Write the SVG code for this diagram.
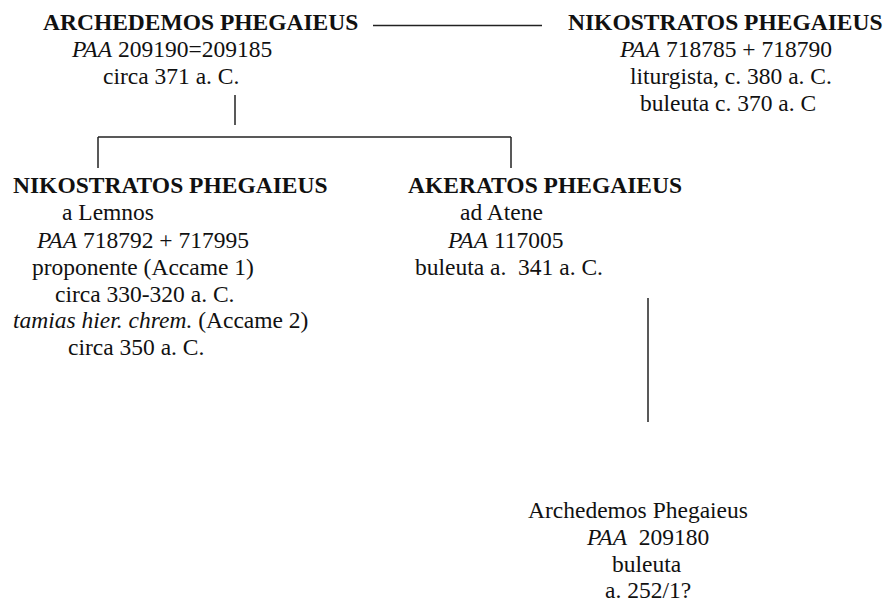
<svg xmlns="http://www.w3.org/2000/svg" width="887" height="604" viewBox="0 0 887 604">
<style>
text{font-size:23.5px;fill:#111;white-space:pre}
.b{font-weight:bold}
.i{font-style:italic}
.ln{stroke:#222;stroke-width:1.5;fill:none}
</style>
<rect width="887" height="604" fill="#fff"/>
<g id="connectors">
<line class="ln" x1="373" y1="25.5" x2="542" y2="25.5"/>
<line class="ln" x1="235" y1="95" x2="235" y2="125"/>
<line class="ln" x1="98" y1="137" x2="511" y2="137"/>
<line class="ln" x1="98" y1="137" x2="98" y2="168"/>
<line class="ln" x1="511" y1="137" x2="511" y2="168"/>
<line class="ln" x1="648" y1="298" x2="648" y2="422"/>
</g>
<g font-family="'Liberation Serif', 'Times New Roman', Tinos, 'DejaVu Serif', serif">
<g id="archedemos1">
<text x="43" y="30" class="b">ARCHEDEMOS PHEGAIEUS</text>
<text x="72" y="57"><tspan class="i">PAA</tspan> 209190=209185</text>
<text x="103" y="84">circa 371 a. C.</text>
</g>
<g id="nikostratos1">
<text x="568" y="30" class="b">NIKOSTRATOS PHEGAIEUS</text>
<text x="620" y="57"><tspan class="i">PAA</tspan> 718785 + 718790</text>
<text x="630" y="84">liturgista, c. 380 a. C.</text>
<text x="640" y="111">buleuta c. 370 a. C</text>
</g>
<g id="nikostratos2">
<text x="13" y="193" class="b">NIKOSTRATOS PHEGAIEUS</text>
<text x="62" y="220">a Lemnos</text>
<text x="37" y="248"><tspan class="i">PAA</tspan> 718792 + 717995</text>
<text x="32" y="275">proponente (Accame 1)</text>
<text x="55" y="302">circa 330-320 a. C.</text>
<text x="13" y="328"><tspan class="i">tamias hier. chrem.</tspan> (Accame 2)</text>
<text x="68" y="355">circa 350 a. C.</text>
</g>
<g id="akeratos">
<text x="408" y="193" class="b">AKERATOS PHEGAIEUS</text>
<text x="460" y="220">ad Atene</text>
<text x="448" y="248"><tspan class="i">PAA</tspan> 117005</text>
<text x="415" y="275">buleuta a.  341 a. C.</text>
</g>
<g id="archedemos2">
<text x="528" y="518">Archedemos Phegaieus</text>
<text x="587" y="545"><tspan class="i">PAA</tspan>  209180</text>
<text x="612" y="572">buleuta</text>
<text x="605" y="598">a. 252/1?</text>
</g>
</g>
</svg>
